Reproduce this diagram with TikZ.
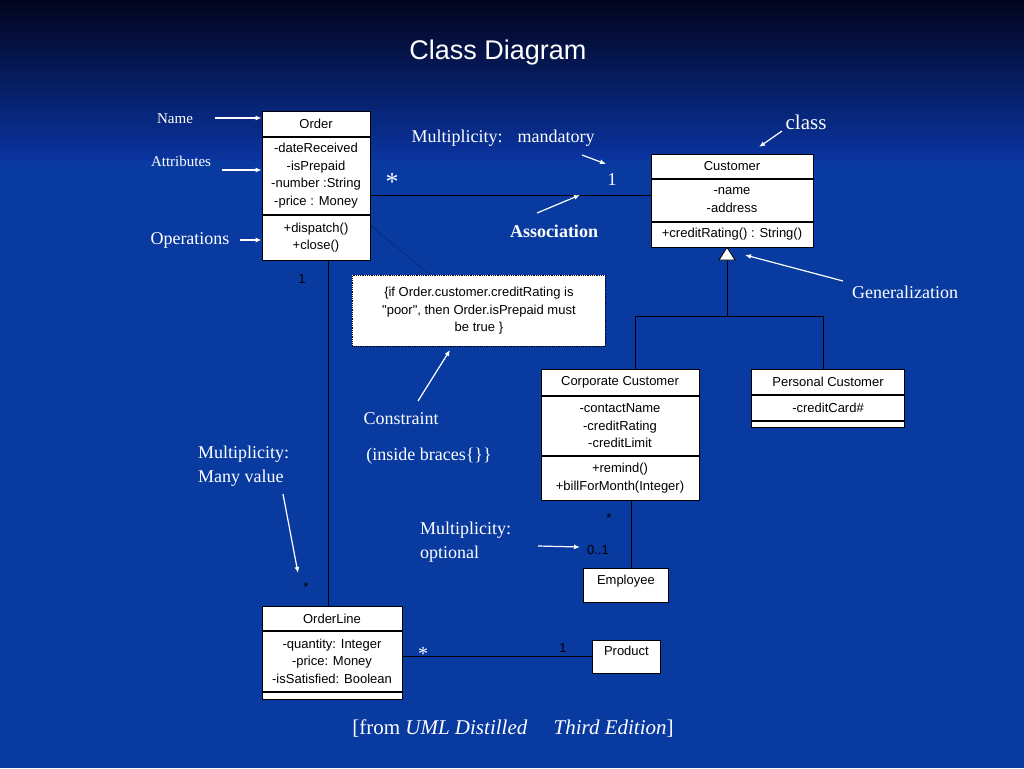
\documentclass[tikz,border=0pt]{standalone}
\usepackage{fontspec}
\setmainfont{Liberation Serif}
\newfontfamily\arial{Liberation Sans}
\usetikzlibrary{positioning,arrows.meta}
\definecolor{bgtop}{RGB}{2,4,30}
\definecolor{bgmid}{RGB}{10,52,160}
\definecolor{bgbot}{RGB}{8,58,160}
\begin{document}
\begin{tikzpicture}[x=1pt,y=-1pt,
    box/.style={draw=black,fill=white,line width=0.8pt,anchor=north,inner sep=2pt,
        align=center,font=\arial\fontsize{13}{17.5}\selectfont},
    lbl/.style={text=white,font=\fontsize{18}{22}\selectfont,inner sep=0pt},
    mult/.style={text=black,font=\arial\fontsize{13}{15}\selectfont,inner sep=0pt},
    note/.style={-{Latex[length=6pt,width=5pt]},white,line width=1.2pt},
    link/.style={black,line width=0.9pt}]
    \useasboundingbox (0,0) rectangle (1024,768);
    \fill[bgbot] (0,0) rectangle (1024,768);
    \shade[top color=bgtop,bottom color=bgmid] (0,0) rectangle (1024,160);
    % Title
    \node[text=white,font=\arial\fontsize{27}{30}\selectfont] (title) at (498,53) {Class Diagram};

    % Order
    \node[box,minimum width=108,minimum height=25] (order-name) at (316,111) {Order};
    \node[box,minimum width=108,minimum height=77,anchor=north] (order-attr) at (order-name.south) {-dateReceived\\-isPrepaid\\-number :String\\-price : Money};
    \node[box,minimum width=108,minimum height=45,anchor=north] (order-ops) at (order-attr.south) {+dispatch()\\+close()};
    % Customer
    \node[box,minimum width=162,minimum height=24] (cust-name) at (732,154) {Customer};
    \node[box,minimum width=162,minimum height=42,anchor=north] (cust-attr) at (cust-name.south) {-name\\-address};
    \node[box,minimum width=162,minimum height=25,anchor=north] (cust-ops) at (cust-attr.south) {+creditRating() : String()};
    % Corporate Customer
    \node[box,minimum width=158,minimum height=26] (corp-name) at (620,369) {Corporate Customer};
    \node[box,minimum width=158,minimum height=59,anchor=north] (corp-attr) at (corp-name.south) {-contactName\\-creditRating\\-creditLimit};
    \node[box,minimum width=158,minimum height=44,anchor=north] (corp-ops) at (corp-attr.south) {+remind()\\+billForMonth(Integer)};
    % Personal Customer
    \node[box,minimum width=153,minimum height=25] (pers-name) at (828,369) {Personal Customer};
    \node[box,minimum width=153,minimum height=25,anchor=north] (pers-attr) at (pers-name.south) {-creditCard\#};
    \node[box,minimum width=153,minimum height=6,inner sep=0pt,anchor=north] (pers-ops) at (pers-attr.south) {};
    % Employee, Product
    \node[box,minimum width=85,minimum height=34,anchor=north west] (employee) at (583,568) {Employee\\[-6pt]};
    \node[box,minimum width=68,minimum height=33,anchor=north west] (product) at (592,640) {Product\\[-6pt]};
    % OrderLine
    \node[box,minimum width=140,minimum height=24] (line-name) at (332,606) {OrderLine};
    \node[box,minimum width=140,minimum height=60,anchor=north] (line-attr) at (line-name.south) {-quantity: Integer\\-price: Money\\-isSatisfied: Boolean};
    \node[box,minimum width=140,minimum height=7,inner sep=0pt,anchor=north] (line-ops) at (line-attr.south) {};
    % Constraint note
    \node[box,draw=black,densely dotted,minimum width=253,minimum height=71,anchor=north west] (constraint) at (352,275) {\{if Order.customer.creditRating is\\"poor", then Order.isPrepaid must\\be true \}};

    % Associations
    \coordinate (assoc) at (370,195);
    \draw[link] (assoc) -- (assoc -| cust-attr.west);
    \draw[link] (order-ops.south -| 328,0) -- (line-name.north -| 328,0);
    \draw[link] (corp-ops.south -| 631,0) -- (employee.north -| 631,0);
    \draw[link] (line-attr.east |- product.west) -- (product.west);
    \draw[black,densely dotted] (370,225) -- (constraint.north west -| 430,0);
    % Generalization
    \coordinate (tri) at (727,260);
    \draw[link] (tri) -- (727,316);
    \draw[link] (corp-name.north -| 635,0) -- (635,316) -- (823,316) -- (pers-name.north -| 823,0);
    \draw[black,fill=white,line width=0.8pt] (cust-ops.south -| 727,0) -- (719,260) -- (735,260) -- cycle;

    % Multiplicities
    \node[text=white,font=\fontsize{26}{26}\selectfont] (m1) at (392,182) {*};
    \node[lbl] (m2) at (612,180) {1};
    \node[mult] (m3) at (302,279) {1};
    \node[mult] (m4) at (306,587) {*};
    \node[mult] (m5) at (609,518) {*};
    \node[mult] (m6) at (598,550) {0..1};
    \node[text=white,font=\fontsize{20}{20}\selectfont] (m7) at (423,654) {*};
    \node[mult] (m8) at (563,648) {1};

    % Explanations
    \node[lbl,font=\fontsize{15}{18}\selectfont] (l-name) at (175,119) {Name};
    \node[lbl,font=\fontsize{15}{18}\selectfont] (l-attr) at (181,161) {Attributes};
    \node[lbl] (l-ops) at (190,240) {Operations};
    \node[lbl] (l-mand) at (503,138) {Multiplicity: \ \ mandatory};
    \node[lbl,font=\bfseries\fontsize{18}{22}\selectfont] (l-assoc) at (554,231) {Association};
    \node[lbl,font=\fontsize{21}{24}\selectfont] (l-class) at (806,122) {class};
    \node[lbl] (l-gen) at (905,292) {Generalization};
    \node[lbl] (l-cons) at (401,419) {Constraint};
    \node[lbl] (l-brace) at (429,456) {(inside braces\{\}\}};
    \node[lbl,align=left,anchor=west,font=\fontsize{18}{24}\selectfont] (l-many) at (198,466) {Multiplicity:\\Many value};
    \node[lbl,align=left,anchor=west,font=\fontsize{18}{24}\selectfont] (l-opt) at (420,542) {Multiplicity:\\optional};
    \node[lbl,font=\fontsize{21}{24}\selectfont] (caption) at (513,728) {[from \textit{UML Distilled} \quad \textit{Third Edition}]};

    % Pointers
    \draw[note] (215,118) -- (order-name.west |- 0,118);
    \draw[note] (222,170) -- (order-attr.west |- 0,170);
    \draw[note] (240,240) -- (order-ops.west |- 0,240);
    \draw[note] (582,155) -- (606,164);
    \draw[note] (537,213) -- (580,195);
    \draw[note] (782,131) -- (759,147);
    \draw[note] (843,281) -- (745,255);
    \draw[note] (418,401) -- (450,350);
    \draw[note] (283,494) -- (298,573);
    \draw[note] (538,546) -- (580,547);
\end{tikzpicture}
\end{document}
